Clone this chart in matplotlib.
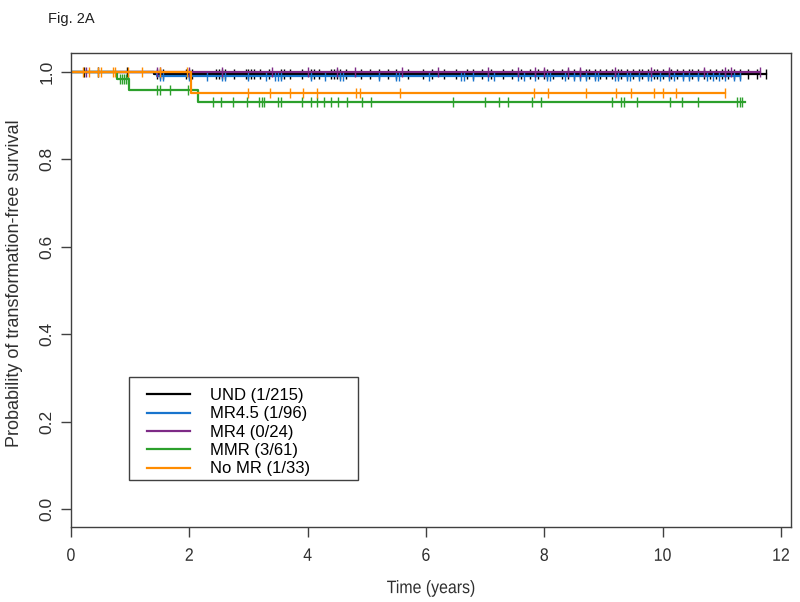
import numpy as np
import matplotlib.pyplot as plt
import matplotlib.patheffects as pe
from matplotlib.patches import Rectangle
from matplotlib.transforms import Affine2D

# step curves: drop times and survival level after each drop, last follow-up time
und_drop = [1.40]
und_surv = [0.995]
und_end = 11.75
und_cens = [0.22, 0.45, 0.95, 1.45, 1.5, 1.55, 1.95, 2.0, 2.05, 2.45, 2.5, 2.55, 2.6, 2.75,
            2.95, 3.0, 3.05, 3.1, 3.2, 3.35, 3.55, 3.6, 3.7, 3.9, 4.05, 4.1, 4.2, 4.4, 4.45,
            4.5, 4.55, 4.65, 4.9, 5.05, 5.2, 5.35, 5.5, 5.7, 5.95, 6.1, 6.3, 6.5, 6.7, 6.8,
            6.95, 7.1, 7.3, 7.45, 7.6, 7.75, 7.9, 8.0, 8.05, 8.15, 8.3, 8.4, 8.5, 8.6, 8.7,
            8.75, 8.85, 8.95, 9.05, 9.15, 9.25, 9.3, 9.4, 9.5, 9.6, 9.65, 9.75, 9.85, 9.9,
            10.0, 10.1, 10.15, 10.25, 10.35, 10.45, 10.5, 10.6, 10.7, 10.8, 10.9, 11.0,
            11.1, 11.2, 11.3, 11.45, 11.6, 11.75]

mr45_drop = [1.45]
mr45_surv = [0.990]
mr45_end = 11.3
mr45_cens = [1.5, 1.55, 2.0, 2.3, 2.55, 2.6, 3.0, 3.3, 3.45, 3.5, 3.55, 4.05, 4.3, 4.55, 4.6,
             5.2, 5.5, 5.55, 6.05, 6.6, 6.65, 6.8, 7.05, 7.15, 7.55, 7.65, 7.85, 8.05, 8.1,
             8.35, 8.5, 8.6, 8.7, 8.85, 8.9, 9.2, 9.25, 9.4, 9.45, 9.6, 9.75, 9.8, 9.95,
             10.1, 10.2, 10.35, 10.45, 10.6, 10.75, 10.85, 10.95, 11.05, 11.2, 11.3]

mr4_drop = []
mr4_surv = []
mr4_end = 11.65
mr4_cens = [0.25, 1.45, 1.5, 2.0, 2.55, 3.4, 4.0, 4.5, 4.8, 5.6, 6.2, 7.05, 7.55, 7.85, 8.0,
            8.4, 8.6, 9.2, 9.8, 10.1, 10.7, 11.05, 11.15, 11.65]

mmr_drop = [0.78, 0.98, 2.15]
mmr_surv = [0.984, 0.958, 0.932]
mmr_end = 11.4
mmr_cens = [0.82, 0.87, 0.90, 0.93, 0.96, 1.45, 1.50, 1.67, 1.98, 2.40, 2.53, 2.74, 2.97,
            3.18, 3.23, 3.26, 3.50, 3.55, 3.90, 4.05, 4.16, 4.27, 4.39, 4.51, 4.66, 4.92,
            5.07, 6.45, 6.99, 7.23, 7.38, 7.79, 7.94, 9.14, 9.29, 9.34, 9.56, 10.12, 10.32,
            10.59, 11.25, 11.30, 11.35]

nomr_drop = [2.02]
nomr_surv = [0.952]
nomr_end = 11.05
nomr_cens = [0.2, 0.3, 0.46, 0.5, 0.71, 0.75, 0.96, 1.2, 1.5, 1.96, 2.99, 3.36, 3.70, 3.92,
             4.16, 4.81, 4.88, 5.56, 7.82, 8.06, 8.70, 9.21, 9.46, 9.85, 10.0, 10.22, 11.05]

labels = ['UND (1/215)', 'MR4.5 (1/96)', 'MR4 (0/24)', 'MMR (3/61)', 'No MR (1/33)']
colors = ['black', '#1874CD', '#7D2A86', '#2CA02C', '#FF8C00']

groups = [(und_drop, und_surv, und_end, und_cens),
          (mr45_drop, mr45_surv, mr45_end, mr45_cens),
          (mr4_drop, mr4_surv, mr4_end, mr4_cens),
          (mmr_drop, mmr_surv, mmr_end, mmr_cens),
          (nomr_drop, nomr_surv, nomr_end, nomr_cens)]


class Squeeze(pe.AbstractPathEffect):
    # narrow the glyphs horizontally around the text centre
    def __init__(self, sx):
        super().__init__()
        self.sx = sx

    def draw_path(self, renderer, gc, tpath, affine, rgbFace=None):
        v = tpath.vertices
        if len(v):
            cx = (v[:, 0].min() + v[:, 0].max()) / 2
        else:
            cx = 0
        t = Affine2D().translate(-cx, 0).scale(self.sx, 1).translate(cx, 0) + affine
        renderer.draw_path(gc, tpath, t, rgbFace)


plt.rcParams['font.family'] = ['Liberation Sans', 'DejaVu Sans']

fig = plt.figure(figsize=(8, 6.02), dpi=100)
ax = fig.add_axes([0.08875, 0.1246, 0.9, 0.7874])

handles = []
for (drop, surv, end, cens), col, lab in zip(groups, colors, labels):
    t = np.array([0.0] + list(drop) + [end])
    s = np.array([1.0] + list(surv) + [surv[-1] if surv else 1.0])
    h, = ax.step(t, s, where='post', color=col, lw=1.6, label=lab)
    handles.append(h)
    # censor marks sit on the curve
    idx = np.searchsorted(t[:-1], cens, side='right') - 1
    ax.plot(cens, s[idx], ls='none', marker='|', ms=6.5, mew=1.0, color=col)

ax.set_xlim(0, 12.17)
ax.set_ylim(-0.041, 1.0435)
ax.set_xticks(np.arange(0, 13, 2))
ax.set_yticks(np.arange(0, 1.01, 0.2))
ax.set_yticklabels(['0.0', '0.2', '0.4', '0.6', '0.8', '1.0'], rotation=90, va='center')
for sp in ax.spines.values():
    sp.set_color('#404040')
    sp.set_linewidth(1.0)
ax.tick_params(length=7, width=1.0, color='#404040', labelcolor='#303030')
ax.tick_params(axis='x', labelsize=13, pad=8)
ax.tick_params(axis='y', labelsize=12.5, pad=5)
for lab in ax.get_xticklabels():
    lab.set_path_effects([Squeeze(0.88)])
xl = ax.set_xlabel('Time (years)', fontsize=13, color='#303030', labelpad=11)
xl.set_path_effects([Squeeze(0.88)])
ax.set_ylabel('Probability of transformation-free survival', fontsize=13, color='#303030')
ax.yaxis.set_label_coords(-0.067, 0.515)

ax.add_patch(Rectangle((0.0806, 0.0992), 0.318, 0.2173, transform=ax.transAxes,
                       fill=False, edgecolor='#404040', lw=1.0, zorder=5))
leg = ax.legend(handles=handles, loc='upper left', bbox_to_anchor=(0.105, 0.293),
                frameon=False, handlelength=2.6, handletextpad=1.2,
                labelspacing=0.2, borderpad=0, borderaxespad=0,
                prop={'family': ['Liberation Sans', 'DejaVu Sans'], 'size': 12})
for line in leg.get_lines():
    line.set_linewidth(1.6)

fig.text(0.06, 0.98, 'Fig. 2A', fontsize=10.5, va='top', ha='left', color='#202020')

fig.savefig('out.png', dpi=100)
